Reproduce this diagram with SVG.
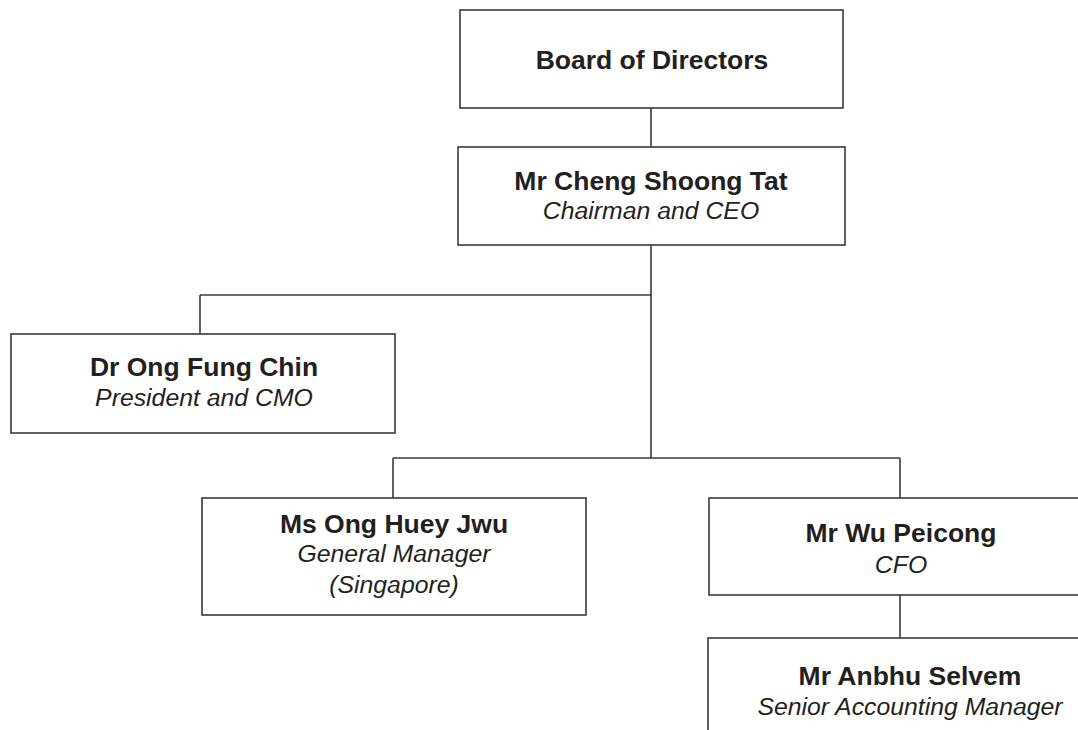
<svg xmlns="http://www.w3.org/2000/svg" width="1078" height="730" viewBox="0 0 1078 730">
<style>
.box{fill:#fff;stroke:#3a3a3a;stroke-width:1.6}
.ln{fill:none;stroke:#3a3a3a;stroke-width:1.6}
.n{font-family:"Liberation Sans",Arial,sans-serif;font-weight:bold;font-size:26.5px;fill:#231f20;text-anchor:middle}
.r{font-family:"Liberation Sans",Arial,sans-serif;font-style:italic;font-size:24.8px;fill:#231f20;text-anchor:middle}
</style>
<rect width="1078" height="730" fill="#fff"/>
<g id="connectors">
<path class="ln" d="M651,108 V147"/>
<path class="ln" d="M651,245 V458"/>
<path class="ln" d="M200,295 H651"/>
<path class="ln" d="M200,295 V334"/>
<path class="ln" d="M393,458 H900"/>
<path class="ln" d="M393,458 V498"/>
<path class="ln" d="M900,458 V498"/>
<path class="ln" d="M900,595 V638"/>
</g>
<g id="board">
<rect class="box" x="460" y="10" width="383" height="98"/>
<text class="n" x="652" y="69">Board of Directors</text>
</g>
<g id="chairman">
<rect class="box" x="458" y="147" width="387" height="98"/>
<text class="n" x="651" y="190">Mr Cheng Shoong Tat</text>
<text class="r" x="651" y="219">Chairman and CEO</text>
</g>
<g id="president">
<rect class="box" x="11" y="334" width="384" height="99"/>
<text class="n" x="204" y="376">Dr Ong Fung Chin</text>
<text class="r" x="204" y="406">President and CMO</text>
</g>
<g id="gm">
<rect class="box" x="202" y="498" width="384" height="117"/>
<text class="n" x="394" y="533">Ms Ong Huey Jwu</text>
<text class="r" x="394" y="562">General Manager</text>
<text class="r" x="394" y="593">(Singapore)</text>
</g>
<g id="cfo">
<rect class="box" x="709" y="498" width="380" height="97"/>
<text class="n" x="901" y="542">Mr Wu Peicong</text>
<text class="r" x="901" y="573">CFO</text>
</g>
<g id="sam">
<rect class="box" x="708" y="638" width="400" height="120"/>
<text class="n" x="910" y="685">Mr Anbhu Selvem</text>
<text class="r" x="910" y="715">Senior Accounting Manager</text>
</g>
</svg>
